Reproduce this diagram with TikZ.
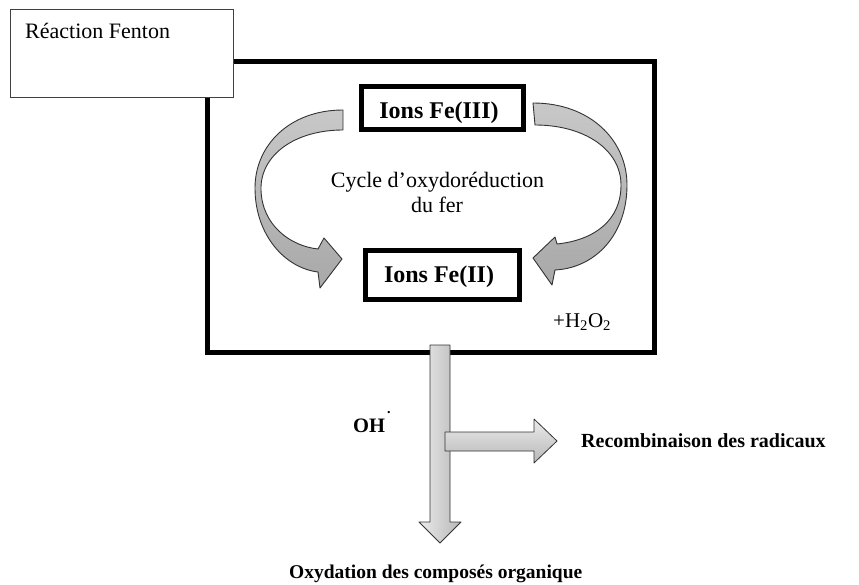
\documentclass[tikz,border=0pt]{standalone}
\usepackage{fontspec}
\setmainfont{Liberation Serif}
\definecolor{ribbon}{HTML}{A8A8A8}
\definecolor{ribbonlight}{HTML}{C8C8C8}
\definecolor{edge}{HTML}{333333}
\tikzset{
  bigbox/.style={draw=black, line width=5pt, inner sep=0pt},
  ionbox/.style={draw=black, line width=5pt, inner sep=0pt},
  thinbox/.style={draw=black!75, line width=1pt, fill=white, inner sep=0pt},
  curvedarrow/.style={draw=edge, line width=0.9pt, top color=ribbonlight, bottom color=ribbon, line join=round},
  vshaft/.style={draw=edge, line width=0.8pt, left color=black!8, right color=black!28, line join=round},
  hshaft/.style={draw=edge, line width=0.8pt, top color=black!8, bottom color=black!28, line join=round},
  lbl/.style={inner sep=0pt, anchor=base west},
}
\newcommand{\fsz}[1]{\fontsize{#1}{#1}\selectfont}
\begin{document}
\begin{tikzpicture}[x=1pt,y=-1pt]
\useasboundingbox (0,0) rectangle (859,585);
\fill[white] (0,0) rectangle (859,585);

% main reaction box
\node (main) [bigbox, minimum width=447pt, minimum height=290.5pt] at (430.5,206.75) {};

% Fenton label box
\node (fenton) [thinbox, minimum width=223pt, minimum height=88pt, anchor=north west] at (10,9) {};
\node (fentontxt) [lbl, font=\fsz{22}] at (25,39) {Réaction Fenton};

% ion boxes
\node (fe3) [ionbox, minimum width=162pt, minimum height=43pt] at (442.5,108) {};
\node (fe3txt) [inner sep=0pt, anchor=base, font=\fsz{24}\bfseries] at (439,119) {Ions Fe(III)};
\node (fe2) [ionbox, minimum width=154pt, minimum height=49pt] at (442.5,275) {};
\node (fe2txt) [inner sep=0pt, anchor=base, font=\fsz{24}\bfseries] at (439,283) {Ions Fe(II)};

% cycle text
\node (cyc1) [inner sep=0pt, anchor=base, font=\fsz{22}] at (437.5,188) {Cycle d’oxydoréduction};
\node (cyc2) [inner sep=0pt, anchor=base, font=\fsz{22}] at (437,213) {du fer};

% left curved arrow (Fe(III) -> Fe(II))
\path[curvedarrow]
  (343,110) .. controls (290,110) and (255,145) .. (255,188)
  .. controls (255,235) and (285,268) .. (318,272)
  -- (320,288) -- (342,259) -- (324,238) -- (318,249)
  .. controls (290,246) and (262,225) .. (261,190)
  .. controls (260,155) and (295,130) .. (343,130) -- cycle;

% right curved arrow
\path[curvedarrow]
  (533,103) .. controls (590,103) and (627,140) .. (627,185)
  .. controls (627,235) and (595,268) .. (555,270)
  -- (552,285) -- (533,258) -- (555,237) -- (557,244)
  .. controls (595,240) and (621,220) .. (621,185)
  .. controls (621,150) and (585,125) .. (535,125) -- cycle;

% H2O2
\node (h2o2) [lbl, font=\fsz{21}] at (553,327) {+H\textsubscript{2}O\textsubscript{2}};

% vertical arrow
\path[vshaft] (430,345) -- (450,345) -- (450,522) -- (461,522) -- (440,543)
  -- (419,522) -- (430,522) -- cycle;
% horizontal arrow
\path[hshaft] (445,432) -- (534,432) -- (534,419) -- (557,441) -- (534,463)
  -- (534,451) -- (445,451) -- cycle;

% labels
\node (oh) [lbl, font=\fsz{20.5}\bfseries] at (353,432) {OH\hspace{2pt}\raisebox{19pt}{\fsz{14}.}};
\node (recomb) [lbl, font=\fsz{20}\bfseries] at (581,447) {Recombinaison des radicaux};
\node (oxyd) [lbl, font=\fsz{19.5}\bfseries] at (289,578) {Oxydation des composés organique};
\end{tikzpicture}
\end{document}
